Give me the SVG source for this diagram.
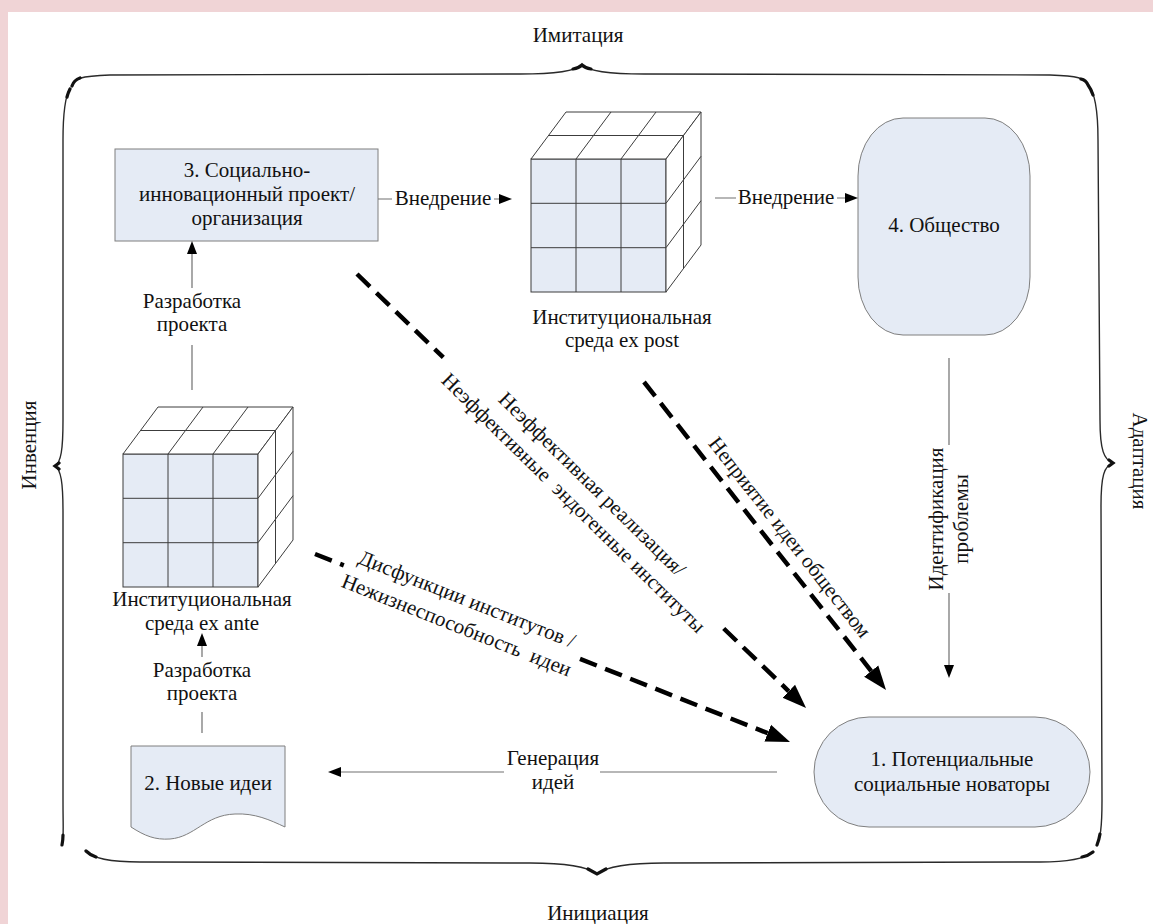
<svg xmlns="http://www.w3.org/2000/svg" width="1153" height="924" viewBox="0 0 1153 924">
<style>
.t{font-family:"Liberation Serif","Times New Roman",serif;font-size:21px;fill:#111;text-anchor:middle}
.box{fill:#e5ebf5;stroke:#7f7f7f;stroke-width:1}
.thin{fill:none;stroke:#707070;stroke-width:1.2}
.dash{fill:none;stroke:#000;stroke-width:4.5;stroke-dasharray:18 9}
.brace{fill:none;stroke:#2a2a2a;stroke-width:1.4}
.tip{fill:none;stroke:#111;stroke-width:3.2;stroke-linecap:round}
.cl{fill:none;stroke:#3c3c3c;stroke-width:1}
</style>
<defs>
<marker id="ah" markerUnits="userSpaceOnUse" markerWidth="14" markerHeight="12" refX="0" refY="6" orient="auto" viewBox="0 0 14 12"><path d="M0,1 L13,6 L0,11 z" fill="#000"/></marker>
<marker id="ahb" markerUnits="userSpaceOnUse" markerWidth="25" markerHeight="20" refX="0" refY="10" orient="auto" viewBox="0 0 25 20"><path d="M0,1 L24,10 L0,19 z" fill="#000"/></marker>
<g id="cube">
<rect x="0" y="0" width="135" height="133" fill="#e5ebf5" stroke="#3c3c3c"/>
<polygon points="0,0 135,0 170,-47 35,-47" fill="#fff" stroke="#3c3c3c"/>
<polygon points="135,0 170,-47 170,86 135,133" fill="#fff" stroke="#3c3c3c"/>
<path class="cl" d="M45,0V133M90,0V133M0,44.3H135M0,88.7H135M45,0L80,-47M90,0L125,-47M17.5,-23.5H152.5M152.5,-23.5V109.5M135,44.3L170,-2.7M135,88.7L170,41.7"/>
</g>
</defs>
<rect x="0" y="0" width="1153" height="924" fill="#f0d4d6"/>
<rect x="8" y="12" width="1145" height="912" fill="#fff"/>

<g id="frame">
<path class="brace" d="M72,86 C73,79 80,76 110,75 L520,74 C556,74 576,71 582,65 C588,71 608,74 644,74 L1050,75 C1078,76 1085,78 1088,85"/>
<path class="brace" d="M70,88 C66,95 63,110 63,140 L63,420 C63,450 61,462 55,466 C61,470 63,482 63,512 L63,800 C63,830 64,838 62,845"/>
<path class="brace" d="M1088,85 C1095,92 1098,110 1098,140 L1100,420 C1100,450 1104,460 1113,463 C1104,466 1101,476 1101,506 L1102,800 C1102,830 1100,838 1097,845"/>
<path class="brace" d="M86,851 C92,858 110,862 140,862 L530,863 C566,863 588,867 597,874 C606,867 628,863 664,863 L1040,862 C1070,862 1086,858 1093,852"/>
<path class="tip" d="M573,69 Q579,68 582,65 Q585,68 591,69 M72,86 Q74,80 80,78 M70,89 Q68,93 67,97 M1081,79 Q1086,80 1088,85 Q1091,89 1093,95 M59,463 L55,466 L59,469 M1109,460 L1113,463 L1109,466 M62,845 Q63,840 63,835 M86,851 Q90,855 96,857 M1097,845 Q1099,840 1100,834 M1093,852 Q1088,856 1082,857 M588,869 L597,874 L606,869"/>
<text class="t" x="578" y="42">Имитация</text>
<text class="t" x="598" y="920">Инициация</text>
<text class="t" transform="translate(36,445) rotate(-90)">Инвенция</text>
<text class="t" transform="translate(1133,461) rotate(90)">Адаптация</text>
</g>

<g id="node3">
<rect class="box" x="115" y="149" width="263" height="92"/>
<text class="t" x="247" y="177">3. Социально-</text>
<text class="t" x="247" y="201">инновационный проект/</text>
<text class="t" x="247" y="225">организация</text>
</g>

<g id="cube-ex-post">
<use href="#cube" transform="translate(531,159)"/>
<text class="t" x="622" y="324">Институциональная</text>
<text class="t" x="622" y="347">среда ex post</text>
</g>

<g id="node4">
<rect class="box" x="858" y="118" width="172" height="217" rx="45" ry="58"/>
<text class="t" x="944" y="232">4. Общество</text>
</g>

<g id="cube-ex-ante">
<use href="#cube" transform="translate(123,454)"/>
<text class="t" x="202" y="606">Институциональная</text>
<text class="t" x="202" y="630">среда ex ante</text>
</g>

<g id="node2">
<path class="box" d="M131,746 H285 V827 C270,820 255,813 235,814 C205,815 195,837 170,839 C155,840 145,836 131,827 Z"/>
<text class="t" x="208" y="790">2. Новые идеи</text>
</g>

<g id="node1">
<rect class="box" x="814" y="717" width="276" height="110" rx="55" ry="55"/>
<text class="t" x="952" y="766">1. Потенциальные</text>
<text class="t" x="952" y="791">социальные новаторы</text>
</g>

<g id="connectors">
<path class="thin" d="M378,199 H392 M494,199 H499" marker-end="url(#ah)"/>
<text class="t" x="443" y="205">Внедрение</text>
<path class="thin" d="M715,198 H736 M837,198 H845" marker-end="url(#ah)"/>
<text class="t" x="786" y="204">Внедрение</text>
<path class="thin" d="M192,390 V345 M192,288 V254" marker-end="url(#ah)"/>
<text class="t" x="192" y="308">Разработка</text>
<text class="t" x="192" y="331">проекта</text>
<path class="thin" d="M202,733 V712 M202,657 V646" marker-end="url(#ah)"/>
<text class="t" x="202" y="677">Разработка</text>
<text class="t" x="202" y="700">проекта</text>
<path class="thin" d="M949,358 V445 M949,593 V665" marker-end="url(#ah)"/>
<g transform="translate(949,519) rotate(-90)">
<text class="t" x="0" y="-6">Идентификация</text>
<text class="t" x="0" y="19">проблемы</text>
</g>
<path class="thin" d="M777,772 H600 M504,772 H341" marker-end="url(#ah)"/>
<text class="t" x="553" y="765">Генерация</text>
<text class="t" x="553" y="789">идей</text>

<path class="dash" d="M357,274 L443.3,357.4 M723.7,628.5 L788.8,691.3" marker-end="url(#ahb)"/>
<g transform="translate(583.5,492.9) rotate(44.5)">
<text class="t" x="0" y="-5.5">Неэффективная реализация/</text>
<text class="t" x="0" y="21">Неэффективные&#160; эндогенные институты</text>
</g>
<path class="dash" d="M644,382 L871.2,671.1" marker-end="url(#ahb)"/>
<text class="t" transform="translate(775,549) rotate(51.8)" x="0" y="-12">Неприятие идеи обществом</text>
<path class="dash" d="M315,554 L343.8,565.4 M580,658.9 L767.7,733.2" marker-end="url(#ahb)"/>
<g transform="translate(461.9,612.1) rotate(21.6)">
<text class="t" x="0" y="-7">Дисфункции институтов /</text>
<text class="t" x="0" y="21">Нежизнеспособность&#160; идеи</text>
</g>
</g>
</svg>
